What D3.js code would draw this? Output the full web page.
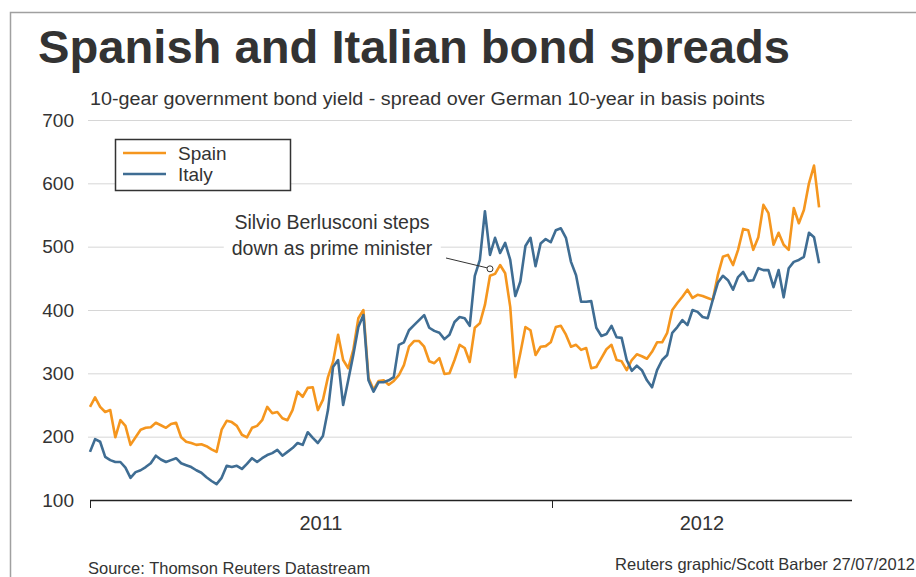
<!DOCTYPE html>
<html>
<head>
<meta charset="utf-8">
<script src="https://cdn.jsdelivr.net/npm/d3@7/dist/d3.min.js"></script>
<style>
  html, body { margin: 0; padding: 0; background: #fff; }
  svg { display: block; font-family: "Liberation Sans", Arial, sans-serif; }
</style>
</head>
<body>
<svg id="chart" width="916" height="577"></svg>
<script>
// ---------------- DATA ----------------
const seriesNames = ["Spain", "Italy"];
const startDate = "2011-01-01";
const stepDays = 4; // one observation every 4 days
const spain = [
  247,262,247,239,242,199,226,217,187,199,
  211,214,215,222,218,214,220,222,199,192,
  190,187,188,185,180,176,211,225,223,217,
  203,199,214,217,226,247,237,239,229,226,
  242,271,263,277,278,242,258,294,318,361,
  321,308,337,387,400,293,274,288,289,282,
  288,297,313,342,351,351,342,319,316,324,
  299,300,321,345,340,318,372,379,408,454,
  457,471,458,405,294,332,373,368,329,342,
  343,349,373,375,361,342,345,337,340,308,
  310,324,338,345,321,319,305,321,330,327,
  323,334,349,349,364,400,411,421,432,419,
  424,422,419,416,455,484,487,471,495,528,
  526,495,515,566,553,503,522,503,495,561,
  537,558,600,628,562
];
const italy = [
  176,196,192,168,163,160,160,151,135,144,
  147,152,158,170,164,160,163,166,158,155,
  152,147,143,136,130,125,135,154,152,154,
  149,157,166,160,166,171,174,179,170,176,
  182,190,187,207,198,190,201,242,310,321,
  250,289,329,373,392,289,271,286,286,289,
  294,345,349,368,376,384,392,372,367,364,
  354,361,381,389,387,375,454,479,556,487,
  514,490,506,479,422,445,501,514,469,505,
  512,507,526,529,514,476,455,413,413,414,
  372,359,362,375,357,356,321,304,312,305,
  289,278,305,321,329,364,373,384,376,400,
  397,389,387,416,443,454,447,432,452,460,
  446,447,466,463,463,436,463,420,466,476,
  479,484,522,515,474
];
const yTicks = [100, 200, 300, 400, 500, 600, 700];
const yearTicks = ["2011-01-01", "2012-01-01"];
const yearLabels = ["2011", "2012"];
const axisEnd = "2012-08-25";
const annotationLines = ["Silvio Berlusconi steps", "down as prime minister"];
const annotationIndex = 79;   // observation where Berlusconi steps down
const annotationValue = 465;

// ---------------- SETUP ----------------
const parse = d3.timeParse("%Y-%m-%d");
const t0 = parse(startDate);
const dates = spain.map((_, i) => d3.timeDay.offset(t0, i * stepDays));
const colors = { Spain: "#f5961e", Italy: "#3f6d93" };
const textColor = "#333333";

const svg = d3.select("#chart");
const margin = { left: 90, right: 64, top: 120, bottom: 77 };
const W = 916, H = 577;

const x = d3.scaleTime()
  .domain([parse(yearTicks[0]), parse(axisEnd)])
  .range([margin.left, W - margin.right]);
const y = d3.scaleLinear()
  .domain([100, 700])
  .range([H - margin.bottom, margin.top]);

// frame
svg.append("path")
  .attr("d", `M10.5,577 L10.5,12.5 L916,12.5`)
  .attr("fill", "none").attr("stroke", "#a0a0a0").attr("stroke-width", 1.5);

// title + subtitle
svg.append("text")
  .attr("x", 38).attr("y", 63)
  .attr("font-size", 46).attr("font-weight", "bold")
  .attr("fill", textColor)
  .attr("textLength", 752).attr("lengthAdjust", "spacingAndGlyphs")
  .text("Spanish and Italian bond spreads");
svg.append("text")
  .attr("x", 90).attr("y", 105)
  .attr("font-size", 18).attr("fill", textColor)
  .attr("textLength", 675).attr("lengthAdjust", "spacingAndGlyphs")
  .text("10-gear government bond yield - spread over German 10-year in basis points");

// gridlines
svg.append("g").selectAll("line")
  .data(yTicks.filter(d => d > 100))
  .join("line")
  .attr("x1", margin.left - 2).attr("x2", W - margin.right)
  .attr("y1", d => y(d) + 0.5).attr("y2", d => y(d) + 0.5)
  .attr("stroke", "#d6d6d6").attr("stroke-width", 1);

// y labels via axis
const yAxis = svg.append("g")
  .attr("transform", `translate(${margin.left - 14},0)`)
  .call(d3.axisLeft(y).tickValues(yTicks).tickSize(0).tickPadding(2));
yAxis.select(".domain").remove();
yAxis.selectAll("text")
  .attr("font-size", 19).attr("fill", textColor)
  .attr("font-family", "Liberation Sans, Arial, sans-serif");

// x axis: year boundary ticks
const xAxis = svg.append("g")
  .attr("transform", `translate(0,${y(100)})`)
  .call(d3.axisBottom(x).tickValues(yearTicks.map(parse)).tickSize(8).tickFormat(""));
xAxis.select(".domain").attr("stroke", "#222").attr("stroke-width", 1.5)
  .attr("d", `M${x.range()[0]},0.5H${x.range()[1]}`);
xAxis.selectAll(".tick line").attr("stroke", "#222").attr("stroke-width", 1);

// year labels centered in each year span
const bounds = yearTicks.map(parse).concat([parse(axisEnd)]);
svg.append("g").selectAll("text")
  .data(yearLabels)
  .join("text")
  .attr("x", (d, i) => (x(bounds[i]) + x(bounds[i + 1])) / 2)
  .attr("y", 530)
  .attr("text-anchor", "middle")
  .attr("font-size", 20).attr("fill", textColor)
  .text(d => d);

// lines
const line = d3.line()
  .x((d, i) => x(dates[i]))
  .y(d => y(d));
svg.append("path").datum(spain)
  .attr("d", line).attr("fill", "none")
  .attr("stroke", colors.Spain).attr("stroke-width", 2.6).attr("stroke-linejoin", "round");
svg.append("path").datum(italy)
  .attr("d", line).attr("fill", "none")
  .attr("stroke", colors.Italy).attr("stroke-width", 2.6).attr("stroke-linejoin", "round");

// annotation
const ax = x(dates[annotationIndex]), ay = y(annotationValue);
const ann = svg.append("g");
const annRect = ann.append("rect").attr("fill", "#fff");
const annText = ann.append("text")
  .attr("text-anchor", "middle").attr("font-size", 19.5).attr("fill", textColor);
annotationLines.forEach((t, i) => {
  annText.append("tspan").attr("x", 332).attr("y", 229 + i * 26).text(t);
});
const bb = annText.node().getBBox();
annRect.attr("x", bb.x - 8).attr("y", bb.y - 4).attr("width", bb.width + 16).attr("height", bb.height + 8);
ann.append("line")
  .attr("x1", 446).attr("y1", 258).attr("x2", ax - 3).attr("y2", ay - 1)
  .attr("stroke", "#333").attr("stroke-width", 1);
ann.append("circle")
  .attr("cx", ax).attr("cy", ay).attr("r", 3)
  .attr("fill", "none").attr("stroke", "#333").attr("stroke-width", 1);

// legend
const lg = svg.append("g");
lg.append("rect")
  .attr("x", 115.5).attr("y", 139.5).attr("width", 175).attr("height", 51)
  .attr("fill", "#fff").attr("stroke", "#333").attr("stroke-width", 1.5);
seriesNames.forEach((n, i) => {
  lg.append("line")
    .attr("x1", 123).attr("x2", 166)
    .attr("y1", 153 + i * 21).attr("y2", 153 + i * 21)
    .attr("stroke", colors[n]).attr("stroke-width", 2.6);
  lg.append("text")
    .attr("x", 178).attr("y", 160 + i * 21)
    .attr("font-size", 19).attr("fill", textColor)
    .text(n);
});

// sources
svg.append("text")
  .attr("x", 88).attr("y", 574)
  .attr("font-size", 16.5).attr("fill", textColor)
  .text("Source: Thomson Reuters Datastream");
svg.append("text")
  .attr("x", 915).attr("y", 570).attr("text-anchor", "end")
  .attr("font-size", 16.5).attr("fill", textColor)
  .text("Reuters graphic/Scott Barber 27/07/2012");
</script>
</body>
</html>
